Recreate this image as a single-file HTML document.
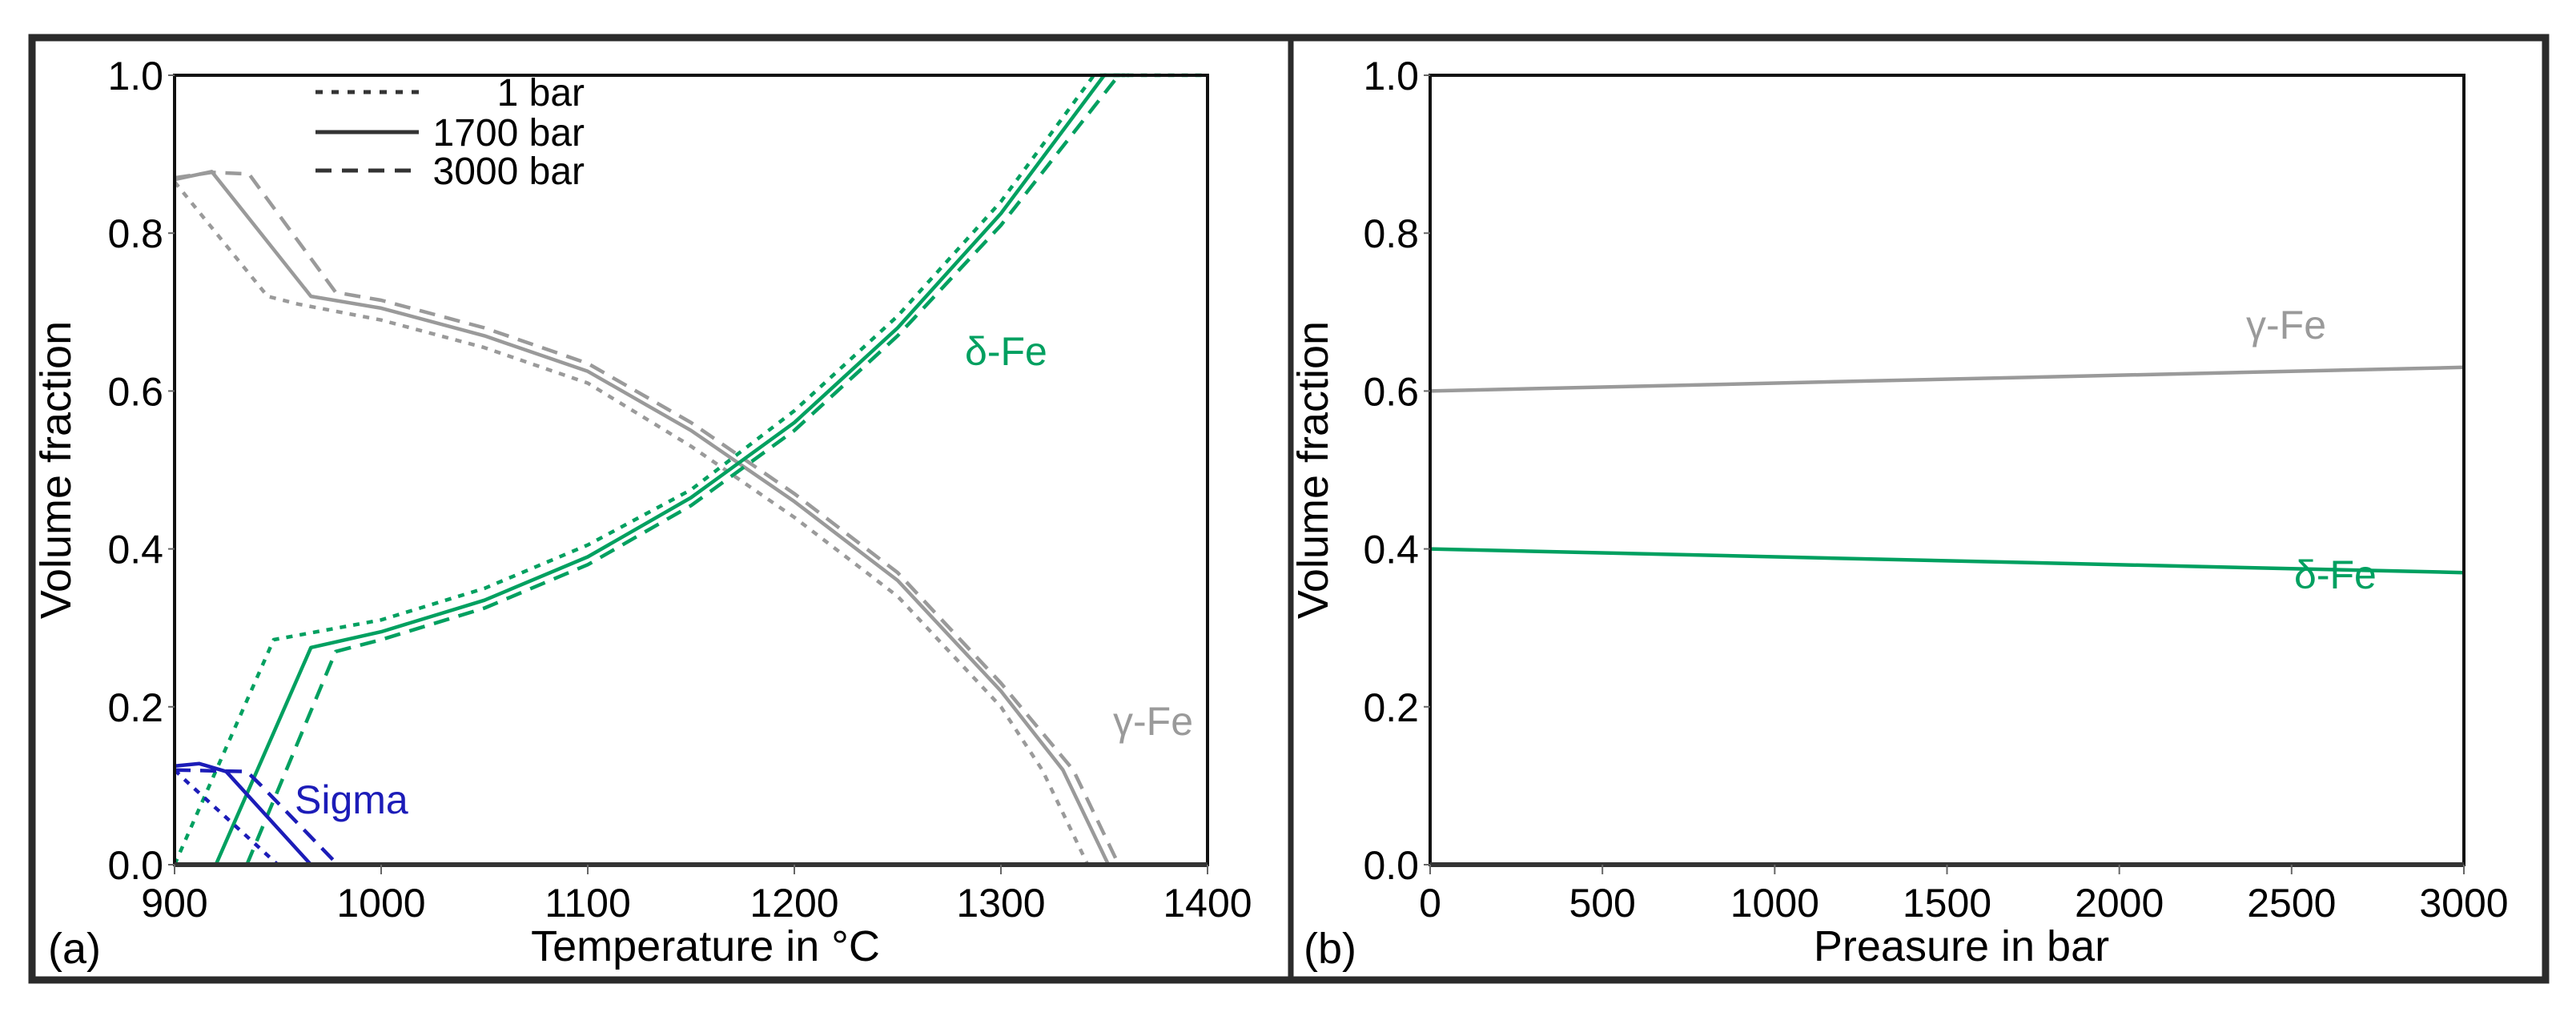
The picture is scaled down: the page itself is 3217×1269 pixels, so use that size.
<!DOCTYPE html>
<html><head><meta charset="utf-8"><style>
html,body{margin:0;padding:0;background:#fff;}
svg{display:block;font-family:"Liberation Sans",Arial,sans-serif;}
</style></head><body>
<svg id="chart" width="3217" height="1269" viewBox="0 0 3217 1269" xmlns="http://www.w3.org/2000/svg">
<rect x="40" y="47" width="3139" height="1177" fill="none" stroke="#2b2b2b" stroke-width="9"/>
<line x1="1612" y1="47" x2="1612" y2="1224" stroke="#2b2b2b" stroke-width="7"/>
<g id="pa"></g>
<g id="pb"></g>
</svg>
<script>
// ---- Panel (a) data ----
const tempTicks = [900, 1000, 1100, 1200, 1300, 1400];
const fracTicks = [0.0, 0.2, 0.4, 0.6, 0.8, 1.0];
const fracTickLabels = ["0.0", "0.2", "0.4", "0.6", "0.8", "1.0"];
// gamma-Fe
const gamma1T = [900, 945, 960, 1000, 1050, 1100, 1150, 1200, 1250, 1300, 1320, 1342];
const gamma1V = [0.865, 0.72, 0.71, 0.69, 0.655, 0.61, 0.53, 0.44, 0.34, 0.2, 0.12, 0.0];
const gamma1700T = [900, 918, 966, 1000, 1050, 1100, 1150, 1200, 1250, 1300, 1330, 1352];
const gamma1700V = [0.868, 0.878, 0.72, 0.705, 0.67, 0.625, 0.55, 0.46, 0.36, 0.22, 0.12, 0.0];
const gamma3000T = [900, 918, 936, 978, 1000, 1050, 1100, 1150, 1200, 1250, 1300, 1335, 1357];
const gamma3000V = [0.87, 0.877, 0.875, 0.725, 0.715, 0.68, 0.635, 0.56, 0.47, 0.37, 0.23, 0.12, 0.0];
// delta-Fe
const delta1T = [900, 948, 1000, 1050, 1100, 1150, 1200, 1250, 1300, 1345, 1400];
const delta1V = [0.0, 0.285, 0.31, 0.35, 0.405, 0.475, 0.575, 0.695, 0.84, 1.0, 1.0];
const delta1700T = [920, 966, 1000, 1050, 1100, 1150, 1200, 1250, 1300, 1350, 1360];
const delta1700V = [0.0, 0.275, 0.295, 0.335, 0.39, 0.465, 0.56, 0.68, 0.825, 1.0, 1.0];
const delta3000T = [935, 978, 1000, 1050, 1100, 1150, 1200, 1250, 1300, 1357, 1362];
const delta3000V = [0.0, 0.27, 0.285, 0.325, 0.38, 0.455, 0.55, 0.67, 0.81, 1.0, 1.0];
// sigma
const sigma1T = [900, 906, 950];
const sigma1V = [0.12, 0.105, 0.0];
const sigma1700T = [900, 912, 925, 966];
const sigma1700V = [0.125, 0.128, 0.118, 0.0];
const sigma3000T = [900, 935, 942, 979];
const sigma3000V = [0.12, 0.118, 0.1, 0.0];
// ---- Panel (b) data ----
const presTicks = [0, 500, 1000, 1500, 2000, 2500, 3000];
const presP = [0, 3000];
const gammaP = [0.60, 0.63];
const deltaP = [0.40, 0.37];

const NS = "http://www.w3.org/2000/svg";
function mk(parent, tag, attrs, text) {
  const e = document.createElementNS(NS, tag);
  for (const k in attrs) e.setAttribute(k, attrs[k]);
  if (text !== undefined) e.textContent = text;
  parent.appendChild(e);
  return e;
}
const GRAY = "#9a9a9a", GREEN = "#00a060", BLUE = "#1c1cb8";
const DOT = "8 9", DASH = "20 12";
const plotTop = 94, plotBot = 1080;
const ya = v => plotBot - v * (plotBot - plotTop);

function axes(g, x0, x1, ticks, sx, labels, xtitle, panelLabel, panelX, ytitleX) {
  const frame = mk(g, "rect", {x: x0, y: plotTop, width: x1 - x0, height: plotBot - plotTop, fill: "none", stroke: "#111", "stroke-width": 4});
  
  
  const xa = mk(g, "line", {x1: x0, y1: plotBot, x2: x1, y2: plotBot, stroke: "#333", "stroke-width": 6});
  
  
  ticks.forEach((t, i) => {
    const x = sx(t);
    const tk = mk(g, "line", {x1: x, y1: plotBot, x2: x, y2: plotBot + 12, stroke: "#666", "stroke-width": 2});
    
    
    const tl = mk(g, "text", {x: x, y: plotBot + 65, "font-size": 50, "text-anchor": "middle", fill: "#000"}, labels[i]);
    
    
  });
  fracTicks.forEach((v, i) => {
    const y = ya(v);
    const tk = mk(g, "line", {x1: x0 - 8, y1: y, x2: x0, y2: y, stroke: "#666", "stroke-width": 2});
    
    
    const tl = mk(g, "text", {x: x0 - 14, y: y + 18, "font-size": 50, "text-anchor": "end", fill: "#000"}, fracTickLabels[i]);
    
    
  });
  const xt = mk(g, "text", {x: (x0 + x1) / 2 + 18, y: 1200, "font-size": 54, "text-anchor": "middle", fill: "#000"}, xtitle);
  
  
  const cy = (plotTop + plotBot) / 2;
  const yt = mk(g, "text", {x: ytitleX, y: cy, "font-size": 54, "text-anchor": "middle", fill: "#000", transform: `rotate(-90 ${ytitleX} ${cy})`}, "Volume fraction");
  
  
  const pl = mk(g, "text", {x: panelX, y: 1203, "font-size": 54, fill: "#000"}, panelLabel);
  
  
}

function series(g, xs, vs, sx, color, dash, name) {
  const d = xs.map((x, i) => (i ? "L" : "M") + sx(x).toFixed(1) + "," + ya(vs[i]).toFixed(1)).join(" ");
  const a = {d: d, fill: "none", stroke: color, "stroke-width": 4.5, "stroke-linejoin": "round"};
  if (dash) a["stroke-dasharray"] = dash;
  const p = mk(g, "path", a);
  
  
}
function label(g, x, y, txt, color, name) {
  const t = mk(g, "text", {x: x, y: y, "font-size": 50, fill: color}, txt);
  
  
}

// Panel (a)
const pa = document.getElementById("pa");
const ax0 = 218, ax1 = 1508;
const sxA = t => ax0 + (t - 900) / 500 * (ax1 - ax0);
const clip = mk(pa, "clipPath", {id: "clipA"});
mk(clip, "rect", {x: ax0, y: plotTop - 4, width: ax1 - ax0, height: plotBot - plotTop + 4});
const ga = mk(pa, "g", {"clip-path": "url(#clipA)"});


series(ga, gamma1T, gamma1V, sxA, GRAY, DOT, "gamma-fe-1bar");
series(ga, gamma1700T, gamma1700V, sxA, GRAY, null, "gamma-fe-1700bar");
series(ga, gamma3000T, gamma3000V, sxA, GRAY, DASH, "gamma-fe-3000bar");
series(ga, delta1T, delta1V, sxA, GREEN, DOT, "delta-fe-1bar");
series(ga, delta1700T, delta1700V, sxA, GREEN, null, "delta-fe-1700bar");
series(ga, delta3000T, delta3000V, sxA, GREEN, DASH, "delta-fe-3000bar");
series(ga, sigma1T, sigma1V, sxA, BLUE, DOT, "sigma-1bar");
series(ga, sigma1700T, sigma1700V, sxA, BLUE, null, "sigma-1700bar");
series(ga, sigma3000T, sigma3000V, sxA, BLUE, DASH, "sigma-3000bar");
axes(pa, ax0, ax1, tempTicks, sxA, tempTicks.map(String), "Temperature in °C", "(a)", 60, 88);
label(pa, 1205, 456, "δ-Fe", GREEN, "delta-fe-label");
label(pa, 1390, 918, "γ-Fe", GRAY, "gamma-fe-label");
label(pa, 368, 1016, "Sigma", BLUE, "sigma-label");
// legend
const leg = mk(pa, "g", {});


[["1 bar", DOT, 115], ["1700 bar", null, 165], ["3000 bar", DASH, 213]].forEach(e => {
  const a = {x1: 394, y1: e[2], x2: 523, y2: e[2], stroke: "#333", "stroke-width": 5};
  if (e[1]) a["stroke-dasharray"] = e[1] === DOT ? "9 11" : "20 13";
  const l = mk(leg, "line", a);
  
  
  const t = mk(leg, "text", {x: 730, y: e[2] + 17, "font-size": 48, "text-anchor": "end", fill: "#000"}, e[0]);
  
  
});

// Panel (b)
const pb = document.getElementById("pb");
const bx0 = 1786, bx1 = 3077;
const sxB = p => bx0 + p / 3000 * (bx1 - bx0);
series(pb, presP, gammaP, sxB, GRAY, null, "gamma-fe-pressure");
series(pb, presP, deltaP, sxB, GREEN, null, "delta-fe-pressure");
axes(pb, bx0, bx1, presTicks, sxB, presTicks.map(String), "Preasure in bar", "(b)", 1628, 1658);
label(pb, 2805, 423, "γ-Fe", GRAY, "gamma-fe-label-b");
label(pb, 2865, 735, "δ-Fe", GREEN, "delta-fe-label-b");
</script>
</body></html>
